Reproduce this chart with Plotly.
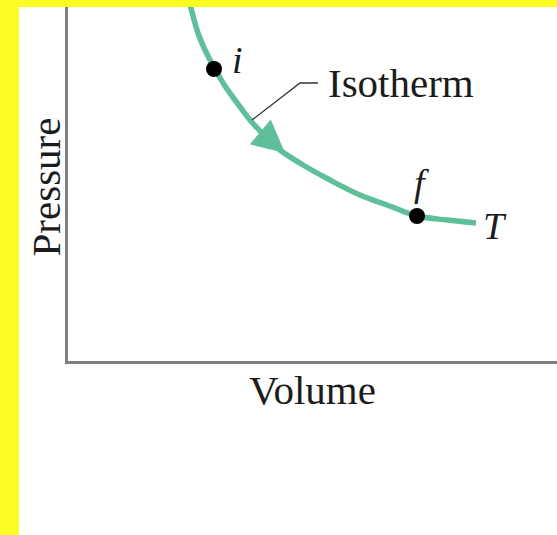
import plotly.graph_objects as go

# Isotherm curve (volume, pressure in arbitrary units)
curve_v = [2.474, 2.658, 2.822, 3.006, 3.211, 3.415, 3.722, 4.029, 4.335,
           4.806, 5.358, 5.971, 6.524, 7.137, 7.751, 8.344]
curve_p = [10.198, 9.266, 8.729, 8.249, 7.768, 7.373, 6.808, 6.356, 5.960,
           5.537, 5.113, 4.689, 4.407, 4.096, 3.983, 3.898]

# state points
state_labels = ["i", "f"]
state_v = [2.986, 7.137]
state_p = [8.249, 4.096]

SERIF = "Liberation Serif, Times New Roman, serif"
TEAL = "#5fbf9b"
TXT = "#1c1c1c"

fig = go.Figure()
fig.add_trace(go.Scatter(x=curve_v, y=curve_p, mode="lines",
                         line=dict(color=TEAL, width=5.5, shape="spline", smoothing=1.0),
                         hoverinfo="skip", showlegend=False))
fig.add_trace(go.Scatter(x=state_v, y=state_p, mode="markers",
                         marker=dict(color="black", size=16),
                         showlegend=False))

annotations = [
    # direction arrow along the isotherm
    dict(x=4.438, y=5.876, ax=curve_v[7], ay=curve_p[7], xref="x", yref="y",
         axref="x", ayref="y", text="", showarrow=True, arrowhead=2,
         arrowsize=1.3, arrowwidth=5, arrowcolor=TEAL, standoff=0),
    dict(x=5.276, y=7.853, xref="x", yref="y", text="Isotherm", showarrow=False,
         xanchor="left", yanchor="middle", font=dict(family=SERIF, size=41, color=TXT)),
    dict(x=3.476, y=8.503, xref="x", yref="y", text="<i>" + state_labels[0] + "</i>",
         showarrow=False, font=dict(family=SERIF, size=38, color=TXT)),
    dict(x=7.219, y=5.028, xref="x", yref="y", text="<i>" + state_labels[1] + "</i>",
         showarrow=False, font=dict(family=SERIF, size=38, color=TXT)),
    dict(x=8.732, y=3.814, xref="x", yref="y", text="<i>T</i>",
         showarrow=False, font=dict(family=SERIF, size=38, color=TXT)),
    # y-axis title
    dict(x=-0.045, y=0.493, xref="paper", yref="paper", text="Pressure",
         textangle=-90, showarrow=False, xanchor="center", yanchor="middle",
         font=dict(family=SERIF, size=41, color=TXT)),
]

shapes = [
    # leader line from the label to the curve
    dict(type="path", xref="x", yref="y",
         path="M 5.112,7.853 L 4.744,7.853 L 3.763,6.808",
         line=dict(color="#333333", width=1.3)),
    # yellow frame on the top and left
    dict(type="rect", xref="paper", yref="paper", x0=-0.2, x1=1.2, y0=1.0, y1=1.05,
         fillcolor="#fbfb25", line=dict(width=0), layer="below"),
    dict(type="rect", xref="paper", yref="paper", x0=-0.2, x1=-0.1002, y0=-1.0, y1=1.05,
         fillcolor="#fbfb25", line=dict(width=0), layer="below"),
]

fig.update_layout(
    width=557, height=535,
    margin=dict(l=68, r=0, t=7, b=174, autoexpand=False),
    paper_bgcolor="white", plot_bgcolor="white",
    annotations=annotations, shapes=shapes,
    showlegend=False,
)
fig.update_xaxes(range=[0, 10], showline=True, linecolor="#808080", linewidth=2.5,
                 showgrid=False, zeroline=False, showticklabels=False, ticks="",
                 automargin=False,
                 title=dict(text="Volume", standoff=13,
                            font=dict(family=SERIF, size=41, color=TXT)))
fig.update_yaxes(range=[0, 10], showline=True, linecolor="#808080", linewidth=2.5,
                 showgrid=False, zeroline=False, showticklabels=False, ticks="",
                 automargin=False)

fig.write_html("out.html", config={"displayModeBar": False},
               post_script="document.body.style.margin='0';document.body.style.padding='0';"
                           "document.body.style.overflow='hidden';")
